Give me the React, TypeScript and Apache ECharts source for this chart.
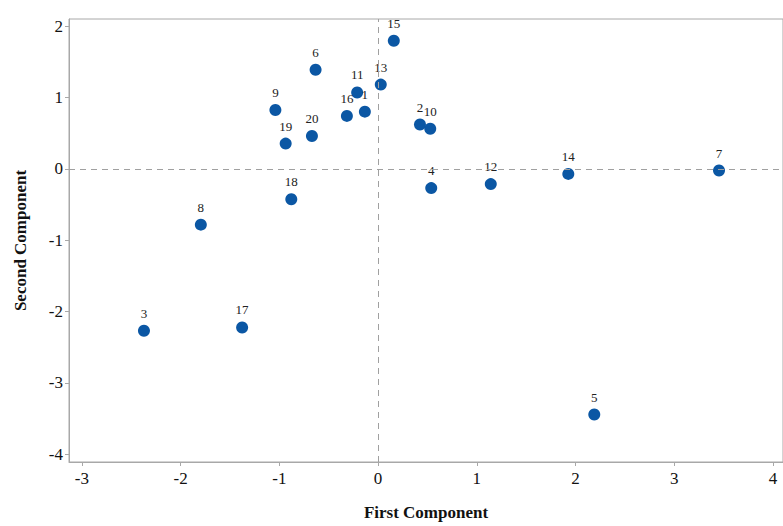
import React, { useEffect, useRef } from "react";
import * as echarts from "echarts";

const ids = ["1","2","3","4","5","6","7","8","9","10","11","12","13","14","15","16","17","18","19","20"];
const firstComp = [-0.134, 0.424, -2.371, 0.538, 2.189, -0.633, 3.452, -1.795, -1.04, 0.528, -0.212, 1.141, 0.027, 1.926, 0.159, -0.316, -1.377, -0.879, -0.936, -0.67];
const secondComp = [0.804, 0.624, -2.269, -0.268, -3.444, 1.393, -0.022, -0.781, 0.828, 0.564, 1.074, -0.212, 1.184, -0.069, 1.799, 0.745, -2.223, -0.424, 0.356, 0.463];
const xTicks = [-3, -2, -1, 0, 1, 2, 3, 4];
const yTicks = [-4, -3, -2, -1, 0, 1, 2];

const FONT = "'Liberation Serif', 'Times New Roman', serif";

export default function App() {
  const ref = useRef<HTMLDivElement>(null);
  useEffect(() => {
    document.body.style.margin = "0";
    if (!ref.current) return;
    const chart = echarts.init(ref.current, null, { renderer: "svg" });
    const data = ids.map((id, i) => ({ name: id, value: [firstComp[i], secondComp[i]] }));
    chart.setOption({
      animation: false,
      backgroundColor: "#ffffff",
      grid: {
        left: 69,
        top: 19,
        right: -2,
        bottom: 59,
        show: true,
        borderColor: "#a8a8a8",
        borderWidth: 1,
        backgroundColor: "transparent",
      },
      xAxis: {
        type: "value",
        min: -3.13,
        max: 4.1,
        name: "First Component",
        nameLocation: "middle",
        nameGap: 42,
        nameTextStyle: { fontFamily: FONT, fontWeight: "bold", fontSize: 17, color: "#111" },
        axisLine: { show: true, onZero: false, lineStyle: { color: "#a8a8a8", width: 1 } },
        axisTick: { show: true, length: 4, customValues: xTicks, lineStyle: { color: "#a8a8a8" } },
        axisLabel: { customValues: xTicks, fontFamily: FONT, fontSize: 17, color: "#111", margin: 8 },
        splitLine: { show: false },
      },
      yAxis: {
        type: "value",
        min: -4.11,
        max: 2.104,
        name: "Second Component",
        nameLocation: "middle",
        nameGap: 40,
        nameTextStyle: { fontFamily: FONT, fontWeight: "bold", fontSize: 17, color: "#111" },
        axisLine: { show: true, onZero: false, lineStyle: { color: "#a8a8a8", width: 1 } },
        axisTick: { show: true, length: 4, customValues: yTicks, lineStyle: { color: "#a8a8a8" } },
        axisLabel: { customValues: yTicks, fontFamily: FONT, fontSize: 17, color: "#111", margin: 6 },
        splitLine: { show: false },
      },
      series: [
        {
          type: "scatter",
          data,
          symbol: "circle",
          symbolSize: 12,
          itemStyle: { color: "#0b57a4", opacity: 1 },
          label: {
            show: true,
            position: "top",
            distance: 5,
            formatter: (p: any) => p.name,
            fontFamily: FONT,
            fontSize: 13,
            color: "#222",
          },
          markLine: {
            silent: true,
            symbol: "none",
            label: { show: false },
            lineStyle: { color: "#a0a0a0", type: [6, 5], width: 1 },
            data: [{ xAxis: 0 }, { yAxis: 0 }],
          },
          z: 3,
        },
      ],
    });
    return () => chart.dispose();
  }, []);
  return <div ref={ref} style={{ width: 783, height: 526 }} />;
}
